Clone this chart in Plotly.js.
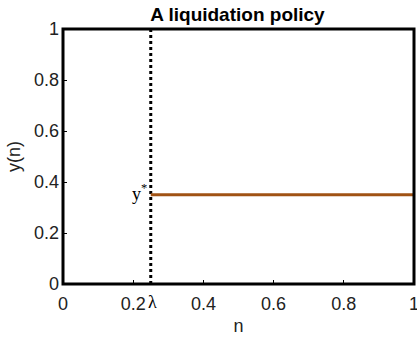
<!DOCTYPE html>
<html><head><meta charset="utf-8">
<script src="https://cdn.plot.ly/plotly-3.0.1.min.js"></script>
<style>html,body{margin:0;padding:0;background:#fff}#c{width:417px;height:337px}</style>
</head><body><div id="c"></div>
<script>
const lambda = 0.25;
const yStar = 0.35;
const policyX = [lambda, 1];
const policyY = [yStar, yStar];
const barrierX = [lambda, lambda];
const barrierY = [0, 1];
const tickVals = [0, 0.2, 0.4, 0.6, 0.8, 1];
const tickText = ['0', '0.2', '0.4', '0.6', '0.8', '1'];

const sans = 'Liberation Sans, Arial, Helvetica';
const serif = 'Liberation Serif, Times New Roman, serif';
const traces = [
  {x: barrierX, y: barrierY, mode: 'lines', line: {color: '#000', width: 3, dash: 'dot'}, hoverinfo: 'skip', cliponaxis: false},
  {x: policyX, y: policyY, mode: 'lines', line: {color: 'rgb(160,82,20)', width: 3}, hoverinfo: 'skip'}
];
const axisCommon = {
  range: [0, 1], tickvals: tickVals, ticktext: tickText, ticks: 'inside', ticklen: 4, tickwidth: 1,
  tickcolor: '#000', showline: false, showgrid: false, zeroline: false,
  ticklabeloverflow: 'allow',
  tickfont: {family: sans, size: 18, color: '#222'}
};
const layout = {
  width: 417, height: 337,
  margin: {l: 63, r: 2.5, t: 29, b: 53},
  paper_bgcolor: '#fff', plot_bgcolor: '#fff', showlegend: false,
  title: {text: '<b>A liquidation policy</b>', x: 0.497, xref: 'paper', xanchor: 'center', y: 17, yref: 'container', yanchor: 'middle',
    font: {family: sans, size: 19, color: '#000'}},
  xaxis: Object.assign({}, axisCommon, {ticklabelstandoff: 7, title: {text: 'n', standoff: 6, font: {family: sans, size: 18, color: '#222'}}}),
  yaxis: Object.assign({}, axisCommon, {ticklabelstandoff: 3, title: {text: 'y(n)', standoff: 8, font: {family: sans, size: 18, color: '#222'}}}),
  shapes: [
    {type: 'rect', xref: 'paper', yref: 'paper', x0: 0, x1: 1, y0: 0, y1: 1, line: {color: '#000', width: 3}, layer: 'above'}
  ],
  annotations: [
    {x: lambda, y: yStar, xref: 'x', yref: 'y', text: 'y<sup>*</sup>', showarrow: false, xanchor: 'right', yanchor: 'middle', xshift: -2, yshift: 2,
      font: {family: serif, size: 18, color: '#000'}},
    {x: lambda, y: 0, xref: 'x', yref: 'y', text: 'λ', showarrow: false, xanchor: 'left', yanchor: 'top', xshift: -5, yshift: -6,
      font: {family: serif, size: 18, color: '#000'}}
  ]
};
Plotly.newPlot('c', traces, layout, {staticPlot: true, displayModeBar: false});
</script></body></html>
